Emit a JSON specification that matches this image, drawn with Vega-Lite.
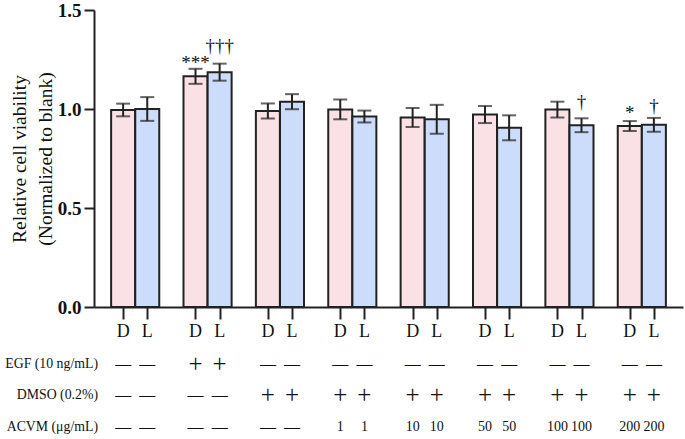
{
  "$schema": "https://vega.github.io/schema/vega-lite/v6.json",
  "width": 589,
  "height": 297,
  "autosize": {"type": "none"},
  "padding": {"left": 94, "top": 10, "right": 2, "bottom": 132},
  "background": "white",
  "config": {"view": {"stroke": null}, "font": "Liberation Serif"},
  "datasets": {
    "bars": [
      {"pos": 0, "cond": "D", "mean": 0.995, "sd": 0.032},
      {"pos": 1, "cond": "L", "mean": 1.0, "sd": 0.06},
      {"pos": 3, "cond": "D", "mean": 1.165, "sd": 0.038},
      {"pos": 4, "cond": "L", "mean": 1.186, "sd": 0.043},
      {"pos": 6, "cond": "D", "mean": 0.99, "sd": 0.038},
      {"pos": 7, "cond": "L", "mean": 1.037, "sd": 0.038},
      {"pos": 9, "cond": "D", "mean": 0.998, "sd": 0.05},
      {"pos": 10, "cond": "L", "mean": 0.962, "sd": 0.03},
      {"pos": 12, "cond": "D", "mean": 0.957, "sd": 0.048},
      {"pos": 13, "cond": "L", "mean": 0.948, "sd": 0.073},
      {"pos": 15, "cond": "D", "mean": 0.972, "sd": 0.043},
      {"pos": 16, "cond": "L", "mean": 0.905, "sd": 0.063},
      {"pos": 18, "cond": "D", "mean": 0.997, "sd": 0.04},
      {"pos": 19, "cond": "L", "mean": 0.918, "sd": 0.035},
      {"pos": 21, "cond": "D", "mean": 0.914, "sd": 0.025},
      {"pos": 22, "cond": "L", "mean": 0.92, "sd": 0.035}
    ],
    "annot": [
      {"pos": 3, "label": "***", "y": 1.23},
      {"pos": 4, "label": "†††", "y": 1.32},
      {"pos": 19, "label": "†", "y": 1.035},
      {"pos": 21, "label": "*", "y": 0.98},
      {"pos": 22, "label": "†", "y": 1.015}
    ],
    "table": [
      {"pos": 0, "row": "DL", "label": "D"}, {"pos": 1, "row": "DL", "label": "L"},
      {"pos": 3, "row": "DL", "label": "D"}, {"pos": 4, "row": "DL", "label": "L"},
      {"pos": 6, "row": "DL", "label": "D"}, {"pos": 7, "row": "DL", "label": "L"},
      {"pos": 9, "row": "DL", "label": "D"}, {"pos": 10, "row": "DL", "label": "L"},
      {"pos": 12, "row": "DL", "label": "D"}, {"pos": 13, "row": "DL", "label": "L"},
      {"pos": 15, "row": "DL", "label": "D"}, {"pos": 16, "row": "DL", "label": "L"},
      {"pos": 18, "row": "DL", "label": "D"}, {"pos": 19, "row": "DL", "label": "L"},
      {"pos": 21, "row": "DL", "label": "D"}, {"pos": 22, "row": "DL", "label": "L"},
      {"pos": 0, "row": "EGF", "label": "—"}, {"pos": 1, "row": "EGF", "label": "—"},
      {"pos": 3, "row": "EGF", "label": "+"}, {"pos": 4, "row": "EGF", "label": "+"},
      {"pos": 6, "row": "EGF", "label": "—"}, {"pos": 7, "row": "EGF", "label": "—"},
      {"pos": 9, "row": "EGF", "label": "—"}, {"pos": 10, "row": "EGF", "label": "—"},
      {"pos": 12, "row": "EGF", "label": "—"}, {"pos": 13, "row": "EGF", "label": "—"},
      {"pos": 15, "row": "EGF", "label": "—"}, {"pos": 16, "row": "EGF", "label": "—"},
      {"pos": 18, "row": "EGF", "label": "—"}, {"pos": 19, "row": "EGF", "label": "—"},
      {"pos": 21, "row": "EGF", "label": "—"}, {"pos": 22, "row": "EGF", "label": "—"},
      {"pos": 0, "row": "DMSO", "label": "—"}, {"pos": 1, "row": "DMSO", "label": "—"},
      {"pos": 3, "row": "DMSO", "label": "—"}, {"pos": 4, "row": "DMSO", "label": "—"},
      {"pos": 6, "row": "DMSO", "label": "+"}, {"pos": 7, "row": "DMSO", "label": "+"},
      {"pos": 9, "row": "DMSO", "label": "+"}, {"pos": 10, "row": "DMSO", "label": "+"},
      {"pos": 12, "row": "DMSO", "label": "+"}, {"pos": 13, "row": "DMSO", "label": "+"},
      {"pos": 15, "row": "DMSO", "label": "+"}, {"pos": 16, "row": "DMSO", "label": "+"},
      {"pos": 18, "row": "DMSO", "label": "+"}, {"pos": 19, "row": "DMSO", "label": "+"},
      {"pos": 21, "row": "DMSO", "label": "+"}, {"pos": 22, "row": "DMSO", "label": "+"},
      {"pos": 0, "row": "ACVM", "label": "—"}, {"pos": 1, "row": "ACVM", "label": "—"},
      {"pos": 3, "row": "ACVM", "label": "—"}, {"pos": 4, "row": "ACVM", "label": "—"},
      {"pos": 6, "row": "ACVM", "label": "—"}, {"pos": 7, "row": "ACVM", "label": "—"},
      {"pos": 9, "row": "ACVM", "label": "1"}, {"pos": 10, "row": "ACVM", "label": "1"},
      {"pos": 12, "row": "ACVM", "label": "10"}, {"pos": 13, "row": "ACVM", "label": "10"},
      {"pos": 15, "row": "ACVM", "label": "50"}, {"pos": 16, "row": "ACVM", "label": "50"},
      {"pos": 18, "row": "ACVM", "label": "100"}, {"pos": 19, "row": "ACVM", "label": "100"},
      {"pos": 21, "row": "ACVM", "label": "200"}, {"pos": 22, "row": "ACVM", "label": "200"}
    ],
    "rowlabels": [
      {"pos": -1, "row": "EGF", "label": "EGF (10 ng/mL)"},
      {"pos": -1, "row": "DMSO", "label": "DMSO (0.2%)"},
      {"pos": -1, "row": "ACVM", "label": "ACVM (μg/mL)"}
    ]
  },
  "layer": [
    {
      "layer": [
        {
          "data": {"name": "bars"},
          "mark": {"type": "bar", "width": 24, "stroke": "#222222", "strokeWidth": 2},
          "encoding": {
            "x": {"field": "pos", "type": "quantitative",
                  "scale": {"domain": [-1, 23], "nice": false, "zero": false},
                  "axis": {"values": [0, 1, 3, 4, 6, 7, 9, 10, 12, 13, 15, 16, 18, 19, 21, 22],
                           "labels": false, "title": null, "grid": false,
                           "tickSize": 12, "tickWidth": 2, "tickColor": "#222222",
                           "domainWidth": 2, "domainColor": "#222222"}},
            "y": {"field": "mean", "type": "quantitative",
                  "scale": {"domain": [0, 1.5], "nice": false},
                  "axis": {"values": [0, 0.5, 1, 1.5], "format": ".1f", "grid": false,
                           "title": ["Relative cell viability", "(Normalized to blank)"],
                           "titleFont": "Liberation Serif", "titleFontSize": 19.5, "titleFontWeight": "normal",
                           "titleColor": "#111111", "titlePadding": 2, "titleLineHeight": 26,
                           "labelFont": "Liberation Serif", "labelFontSize": 19, "labelFontWeight": "bold",
                           "labelColor": "#111111", "labelPadding": 3,
                           "tickSize": 10, "tickWidth": 2, "tickColor": "#222222",
                           "domainWidth": 2, "domainColor": "#222222"}},
            "color": {"field": "cond", "type": "nominal",
                      "scale": {"domain": ["D", "L"], "range": ["#F9E1E6", "#CBDDFA"]},
                      "legend": null}
          }
        },
        {
          "data": {"name": "bars"},
          "mark": {"type": "errorbar", "ticks": true, "size": 14, "thickness": 2, "color": "#222222"},
          "encoding": {
            "x": {"field": "pos", "type": "quantitative", "scale": {"domain": [-1, 23], "nice": false, "zero": false}, "axis": null},
            "y": {"field": "mean", "type": "quantitative", "scale": {"domain": [0, 1.5], "nice": false}, "axis": null},
            "yError": {"field": "sd"}
          }
        },
        {
          "data": {"name": "annot"},
          "mark": {"type": "text", "font": "Liberation Serif", "fontSize": 19, "baseline": "middle", "align": "center", "color": "#111111"},
          "encoding": {
            "x": {"field": "pos", "type": "quantitative", "scale": {"domain": [-1, 23], "nice": false, "zero": false}, "axis": null},
            "y": {"field": "y", "type": "quantitative", "scale": {"domain": [0, 1.5], "nice": false}, "axis": null},
            "text": {"field": "label"}
          }
        }
      ],
      "resolve": {"axis": {"x": "independent", "y": "independent"}}
    },
    {
      "layer": [
        {
          "data": {"name": "table"},
          "mark": {"type": "text", "font": "Liberation Serif", "baseline": "middle", "align": "center", "color": "#111111"},
          "encoding": {
            "x": {"field": "pos", "type": "quantitative", "scale": {"domain": [-1, 23], "nice": false, "zero": false}, "axis": null},
            "y": {"field": "row", "type": "nominal",
                  "scale": {"type": "point", "domain": ["DL", "EGF", "DMSO", "ACVM"], "range": [322, 417], "padding": 0},
                  "axis": null},
            "text": {"field": "label"},
            "size": {"condition": [{"test": "datum.label === '+'", "value": 25}, {"test": "datum.label === '—'", "value": 16}, {"test": "datum.row === 'DL'", "value": 18}], "value": 14}
          }
        },
        {
          "data": {"name": "rowlabels"},
          "mark": {"type": "text", "font": "Liberation Serif", "fontSize": 13.8, "baseline": "middle", "align": "right", "dx": -1, "color": "#111111"},
          "encoding": {
            "x": {"field": "pos", "type": "quantitative", "scale": {"domain": [-1, 23], "nice": false, "zero": false}, "axis": null},
            "y": {"field": "row", "type": "nominal",
                  "scale": {"type": "point", "domain": ["DL", "EGF", "DMSO", "ACVM"], "range": [322, 417], "padding": 0},
                  "axis": null},
            "text": {"field": "label"}
          }
        }
      ],
      "resolve": {"axis": {"x": "independent", "y": "independent"}}
    }
  ],
  "resolve": {"scale": {"y": "independent"}, "axis": {"x": "independent", "y": "independent"}}
}
